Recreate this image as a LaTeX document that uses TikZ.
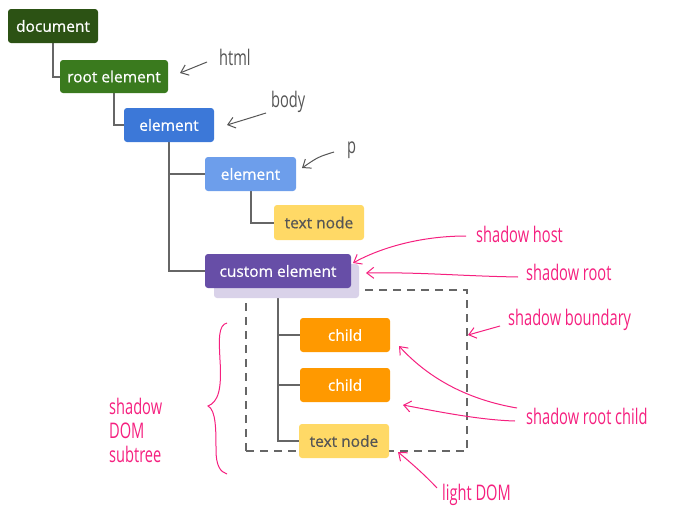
\documentclass[tikz,border=0pt]{standalone}
\usepackage{fontspec}
\setmainfont{Open Sans}
\newfontfamily\boxfont[FakeBold=0.6]{Open Sans}
\newfontfamily\hand[FakeStretch=0.68]{Open Sans}
\usetikzlibrary{arrows.meta,backgrounds}
\definecolor{docgreen}{HTML}{2C5214}
\definecolor{rootgreen}{HTML}{3A7A1E}
\definecolor{bodyblue}{HTML}{3C78D8}
\definecolor{pblue}{HTML}{6D9EEB}
\definecolor{textyel}{HTML}{FFD966}
\definecolor{purp}{HTML}{674EA7}
\definecolor{lpurp}{HTML}{D9D2E9}
\definecolor{orng}{HTML}{FF9900}
\definecolor{linegray}{HTML}{666666}
\definecolor{pink}{HTML}{F5207F}
\definecolor{hgray}{HTML}{555555}
\tikzset{
  box/.style={rectangle, rounded corners=3pt, inner sep=0pt, font=\boxfont\fontsize{15.5}{18}\selectfont, text=white},
  tree/.style={draw=linegray, line width=2pt},
  note/.style={font=\hand\fontsize{21.5}{26}\selectfont, text=pink, inner sep=1pt},
  gnote/.style={font=\hand\fontsize{21.5}{26}\selectfont, text=hgray, inner sep=1pt},
  parrow/.style={draw=pink, line width=1pt, -{Straight Barb[length=7pt,width=11pt,line width=1pt]}},
  garrow/.style={draw=hgray, line width=1pt, -{Straight Barb[length=7pt,width=11pt,line width=1pt]}}
}
\begin{document}
\begin{tikzpicture}[x=1pt,y=-1pt]
\useasboundingbox (0,0) rectangle (688,522);
% nodes
\node[box, fill=docgreen, minimum width=90pt, minimum height=34pt] (document) at (53,26) {document};
\node[box, fill=rootgreen, minimum width=108pt, minimum height=33pt] (root) at (114,76.5) {root element};
\node[box, fill=bodyblue, minimum width=90pt, minimum height=34pt] (body) at (169,125) {element};
\node[box, fill=pblue, minimum width=91pt, minimum height=34pt] (p) at (250.5,174) {element};
\node[box, fill=textyel, text=hgray, minimum width=90pt, minimum height=35pt] (text1) at (319,222.5) {text node};
\node[box, fill=lpurp, minimum width=145pt, minimum height=34pt] (shroot) at (286.5,281) {};
\node[box, fill=purp, minimum width=146pt, minimum height=34pt] (custom) at (278,271) {custom element};
\node[box, fill=orng, minimum width=90pt, minimum height=34pt] (child1) at (345,335) {child};
\node[box, fill=orng, minimum width=90pt, minimum height=34pt] (child2) at (345,385) {child};
\node[box, fill=textyel, text=hgray, minimum width=90pt, minimum height=34pt] (text2) at (344,441) {text node};
\begin{scope}[on background layer]
\node[draw=linegray, line width=2pt, dash pattern=on 8pt off 6pt, minimum width=221pt, minimum height=161pt, inner sep=0pt] (boundary) at (356.5,370.5) {};
\draw[tree] (document.south) |- (root.west);
\draw[tree] (root.south) |- (body.west);
\draw[tree] (body.south) |- (p.west);
\draw[tree] (body.south) |- (custom.west);
\draw[tree] (p.south) |- (text1.west);
\draw[tree] (custom.south) |- (child1.west);
\draw[tree] (custom.south) |- (child2.west);
\draw[tree] (custom.south) |- (text2.west);
\end{scope}
% gray notes
\node[gnote, anchor=west] (lhtml) at (218,57) {html};
\node[gnote, anchor=west] (lbody) at (270,102) {body};
\node[gnote, anchor=west] (lp) at (346,150) {p};
\coordinate (thtml) at (180,73);
\coordinate (tbody) at (227,125);
\coordinate (tp) at (302,168);
\draw[garrow] (207,62) -- (thtml);
\draw[garrow] (266,113) .. controls (250,118) .. (tbody);
\draw[garrow] (334,152) .. controls (318,157) .. (tp);
% pink notes
\node[note, anchor=west] (lhost) at (475,234) {shadow host};
\node[note, anchor=west] (lroot) at (525,272) {shadow root};
\node[note, anchor=west] (lbound) at (507,320) {shadow boundary};
\node[note, anchor=west] (lchild) at (525,416) {shadow root child};
\node[note, anchor=west] (llight) at (441,495) {light DOM};
\node[note, anchor=west, align=left, font=\hand\fontsize{21.5}{24}\selectfont] (lsub) at (108,430) {shadow\\DOM\\subtree};
\coordinate (thost) at (353,263);
\coordinate (troot) at (366,273);
\coordinate (tbound) at (468,335);
\coordinate (tc1) at (399,346);
\coordinate (tc2) at (403,405);
\coordinate (tlight) at (398,452);
\draw[parrow] (466,236) .. controls (420,236) and (380,248) .. (thost);
\draw[parrow] (518,277) .. controls (460,276) and (420,272) .. (troot);
\draw[parrow] (500,326) -- (tbound);
\draw[parrow] (517,408) .. controls (470,400) and (430,380) .. (tc1);
\draw[parrow] (515,421) .. controls (480,420) and (440,412) .. (tc2);
\draw[parrow] (437,488) .. controls (425,475) and (410,462) .. (tlight);
% brace
\draw[pink, line width=1pt] (227,323) .. controls (218,325) and (219,340) .. (220,360)
  .. controls (222,390) and (218,402) .. (208,406)
  .. controls (216,410) and (216,430) .. (216,450)
  .. controls (216,465) and (220,472) .. (227,474);
\end{tikzpicture}
\end{document}
